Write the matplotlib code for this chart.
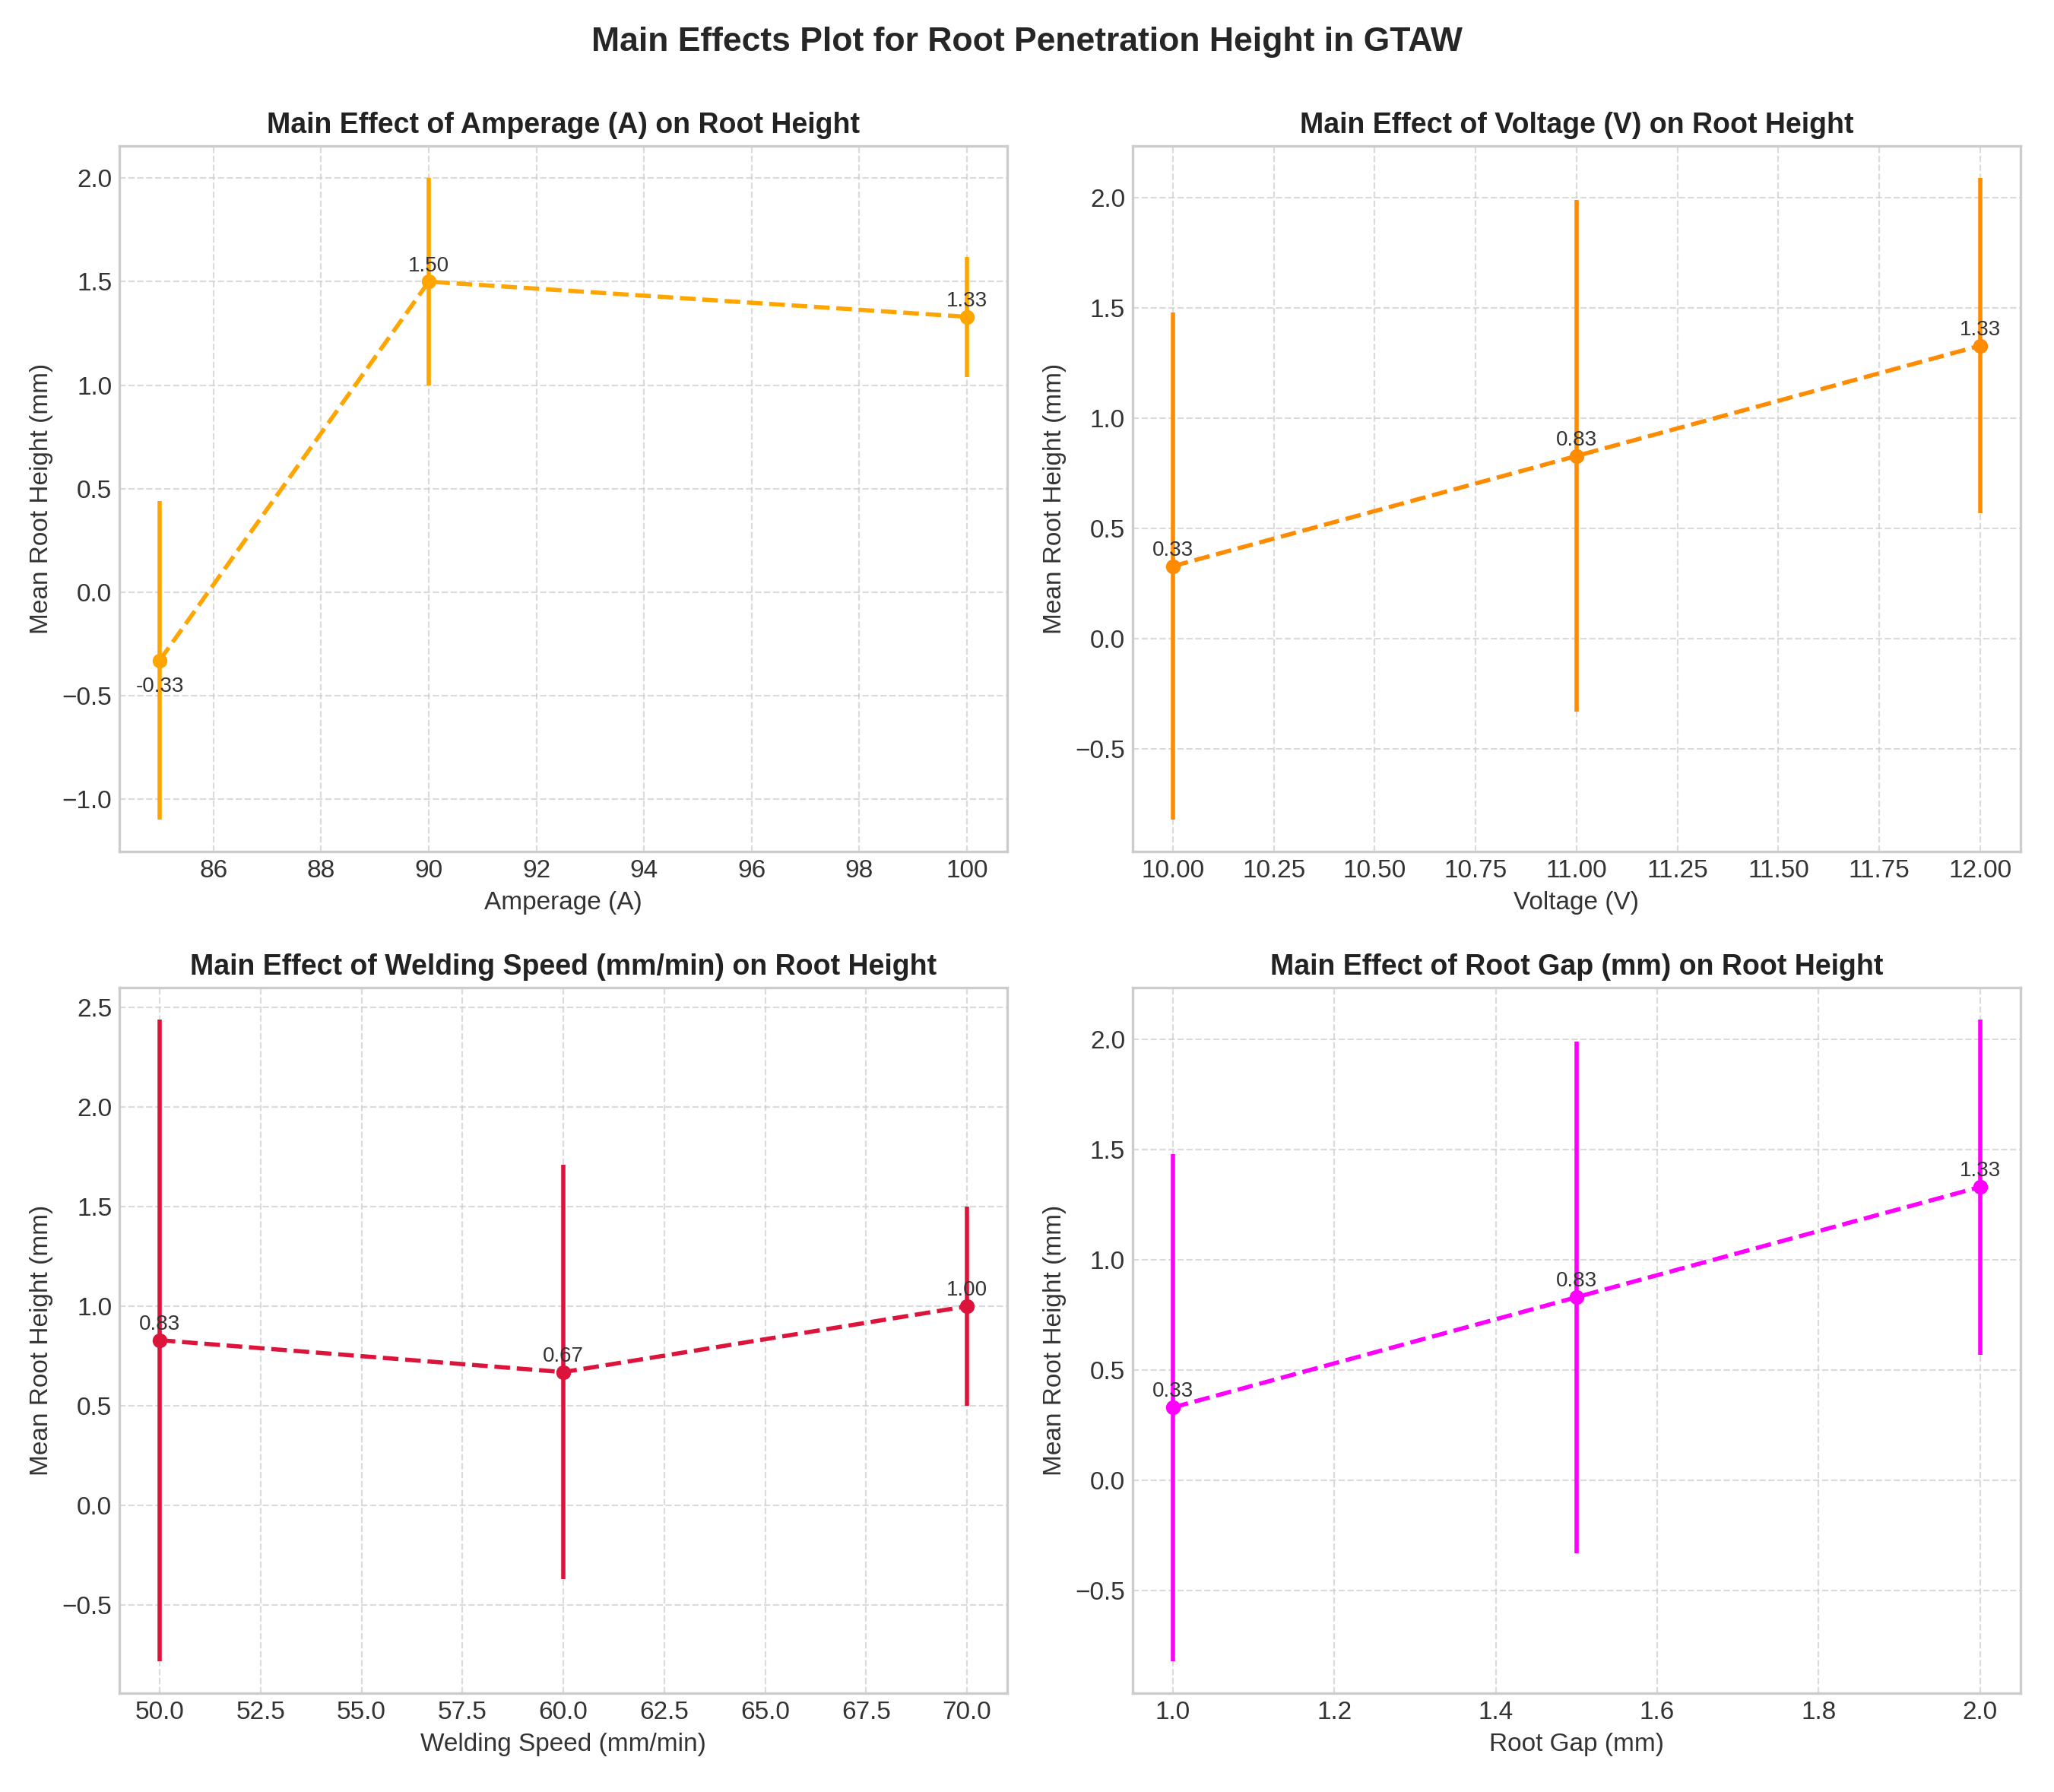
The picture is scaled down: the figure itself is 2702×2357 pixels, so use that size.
import matplotlib
matplotlib.use("Agg")
import matplotlib.pyplot as plt
import numpy as np

plt.style.use("seaborn-v0_8-whitegrid")
plt.rcParams['font.family'] = ['Liberation Sans', 'DejaVu Sans']

# Data
amperage_levels = [85, 90, 100]
amperage_means = [-0.33, 1.50, 1.33]
amperage_std = [0.77, 0.50, 0.29]

voltage_levels = [10.0, 11.0, 12.0]
voltage_means = [0.33, 0.83, 1.33]
voltage_std = [1.15, 1.16, 0.76]

speed_levels = [50.0, 60.0, 70.0]
speed_means = [0.83, 0.67, 1.00]
speed_std = [1.61, 1.04, 0.50]

gap_levels = [1.0, 1.5, 2.0]
gap_means = [0.33, 0.83, 1.33]
gap_std = [1.15, 1.16, 0.76]

panels = [
    ("Amperage (A)", amperage_levels, amperage_means, amperage_std, "orange"),
    ("Voltage (V)", voltage_levels, voltage_means, voltage_std, "darkorange"),
    ("Welding Speed (mm/min)", speed_levels, speed_means, speed_std, "crimson"),
    ("Root Gap (mm)", gap_levels, gap_means, gap_std, "magenta"),
]

fig, axes = plt.subplots(2, 2, figsize=(13.51, 11.785), dpi=200)
fig.subplots_adjust(left=0.0581, right=0.9837, top=0.9185, bottom=0.0552,
                    wspace=0.141, hspace=0.192)
fig.suptitle("Main Effects Plot for Root Penetration Height in GTAW",
             fontsize=16, fontweight="bold", y=0.985)

for ax, (name, x, m, s, c) in zip(axes.flat, panels):
    ax.errorbar(x, m, yerr=s, fmt='o--', color=c, ecolor=c, elinewidth=2,
                linewidth=2, markersize=6, capsize=0)
    for xi, mi in zip(x, m):
        if mi < 0:
            ax.annotate(f"{mi:.2f}", (xi, mi), textcoords="offset points",
                        xytext=(0, -15), ha='center', fontsize=10, color='#333333')
        else:
            ax.annotate(f"{mi:.2f}", (xi, mi), textcoords="offset points",
                        xytext=(0, 5), ha='center', fontsize=10, color='#333333')
    ax.set_title(f"Main Effect of {name} on Root Height", fontsize=13.5,
                 fontweight="bold", color='#222222')
    ax.set_xlabel(name, fontsize=12, color='#333333')
    ax.set_ylabel("Mean Root Height (mm)", fontsize=12, color='#333333')
    ax.tick_params(labelsize=12, colors='#333333')
    ax.grid(True, linestyle='--', alpha=0.7)
    for sp in ax.spines.values():
        sp.set_visible(True)
        sp.set_color('#cccccc')
        sp.set_linewidth(1.2)

fig.savefig("out.png", dpi=200)
